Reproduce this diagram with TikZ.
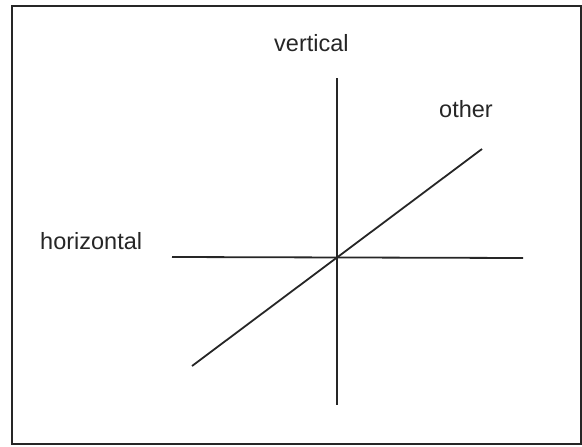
\documentclass[tikz,border=0pt]{standalone}
\usepackage{fontspec}
\setmainfont{Liberation Sans}
\begin{document}
\begin{tikzpicture}[x=1pt,y=-1pt,
  axis/.style={draw=black!85, line width=1.8pt},
  lbl/.style={inner sep=0pt, anchor=base west, text=black!85, font=\fontsize{23.5}{28}\selectfont}]
\useasboundingbox (0,0) rectangle (582,447);
\draw[black!85, line width=2pt] (12,6) rectangle (581,444);
\coordinate (hl) at (172,257);
\coordinate (hr) at (523,258);
\coordinate (vt) at (337,78);
\coordinate (vb) at (337,405);
\coordinate (dl) at (192,366);
\coordinate (dr) at (482,149);
\draw[axis] (hl) -- (hr);
\draw[axis] (vt) -- (vb);
\draw[axis] (dl) -- (dr);
\node[lbl] (v) at (274,52) {vertical};
\node[lbl] (o) at (439,117) {other};
\node[lbl] (h) at (40,249) {horizontal};
\end{tikzpicture}
\end{document}
